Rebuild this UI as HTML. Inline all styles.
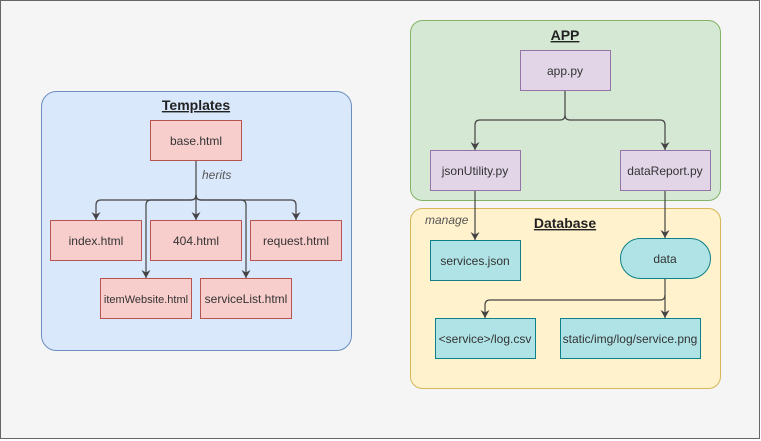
<!DOCTYPE html>
<html><head><meta charset="utf-8"><style>
html,body{margin:0;padding:0;background:#fff;}
svg{display:block;}
text{font-family:"Liberation Sans",Helvetica,Arial,sans-serif;font-size:12px;fill:#333;}
.t{font-weight:bold;font-size:14px;text-decoration:underline;fill:#222;}
.i{font-style:italic;fill:#555;}
</style></head><body>
<svg width="761" height="441" viewBox="0 0 761 441" xmlns="http://www.w3.org/2000/svg">
<defs><marker id="a" markerWidth="10" markerHeight="10" refX="4.5" refY="8" orient="0" markerUnits="userSpaceOnUse">
<path d="M0,0 L4.5,8 L9,0 L4.5,2.5 Z" fill="#444"/></marker></defs>
<rect x="0.5" y="0.5" width="759" height="438" fill="#f5f5f5" stroke="#666"/>
<!-- Templates -->
<rect x="41.5" y="91.5" width="310" height="259" rx="15" fill="#dae8fc" stroke="#6c8ebf"/>
<text x="196" y="110" text-anchor="middle" class="t">Templates</text>
<rect x="150.5" y="120.5" width="91" height="40" fill="#f8cecc" stroke="#b85450"/>
<text x="196" y="145" text-anchor="middle">base.html</text>
<text x="202" y="179" class="i">herits</text>
<g fill="none" stroke="#444" stroke-width="1.2">
<path d="M196,161 V220" marker-end="url(#a)"/>
<path d="M196,195 Q196,200 191,200 H101 Q96,200 96,205 V220" marker-end="url(#a)"/>
<path d="M196,195 Q196,200 191,200 H151 Q146,200 146,205 V278" marker-end="url(#a)"/>
<path d="M196,195 Q196,200 201,200 H241 Q246,200 246,205 V278" marker-end="url(#a)"/>
<path d="M196,195 Q196,200 201,200 H291 Q296,200 296,205 V220" marker-end="url(#a)"/>
</g>
<g fill="#f8cecc" stroke="#b85450">
<rect x="50.5" y="220.5" width="91" height="40"/>
<rect x="150.5" y="220.5" width="91" height="40"/>
<rect x="250.5" y="220.5" width="91" height="40"/>
<rect x="100.5" y="278.5" width="91" height="40"/>
<rect x="200.5" y="278.5" width="91" height="40"/>
</g>
<text x="96" y="245" text-anchor="middle">index.html</text>
<text x="196" y="245" text-anchor="middle">404.html</text>
<text x="296" y="245" text-anchor="middle">request.html</text>
<text x="146" y="303" text-anchor="middle" style="font-size:11px">itemWebsite.html</text>
<text x="246" y="303" text-anchor="middle">serviceList.html</text>
<!-- APP -->
<rect x="410.5" y="20.5" width="310" height="180" rx="12" fill="#d5e8d4" stroke="#82b366"/>
<text x="565" y="40" text-anchor="middle" class="t">APP</text>
<!-- Database -->
<rect x="410.5" y="208.5" width="310" height="180" rx="12" fill="#fff2cc" stroke="#d6b656"/>
<text x="565" y="228" text-anchor="middle" class="t">Database</text>
<text x="425" y="224" class="i">manage</text>
<g fill="none" stroke="#444" stroke-width="1.2">
<path d="M565,90 V115 Q565,120 560,120 H480 Q475,120 475,125 V150" marker-end="url(#a)"/>
<path d="M565,115 Q565,120 570,120 H660 Q665,120 665,125 V150" marker-end="url(#a)"/>
<path d="M475,190 V240" marker-end="url(#a)"/>
<path d="M665,190 V238" marker-end="url(#a)"/>
<path d="M665,278 V318" marker-end="url(#a)"/>
<path d="M665,295 Q665,300 660,300 H490 Q485,300 485,305 V318" marker-end="url(#a)"/>
</g>
<g fill="#e1d5e7" stroke="#9673a6">
<rect x="520.5" y="50.5" width="90" height="40"/>
<rect x="430.5" y="150.5" width="90" height="40"/>
<rect x="620.5" y="150.5" width="90" height="40"/>
</g>
<text x="565" y="75" text-anchor="middle">app.py</text>
<text x="475" y="175" text-anchor="middle">jsonUtility.py</text>
<text x="665" y="175" text-anchor="middle">dataReport.py</text>
<g fill="#b0e3e6" stroke="#0e8088">
<rect x="430.5" y="240.5" width="90" height="40"/>
<rect x="620.5" y="238.5" width="90" height="40" rx="20"/>
<rect x="435.5" y="318.5" width="100" height="40"/>
<rect x="560.5" y="318.5" width="140" height="40"/>
</g>
<text x="475" y="265" text-anchor="middle">services.json</text>
<text x="665" y="263" text-anchor="middle">data</text>
<text x="485" y="343" text-anchor="middle">&lt;service&gt;/log.csv</text>
<text x="630" y="343" text-anchor="middle">static/img/log/service.png</text>
</svg>
</body></html>
